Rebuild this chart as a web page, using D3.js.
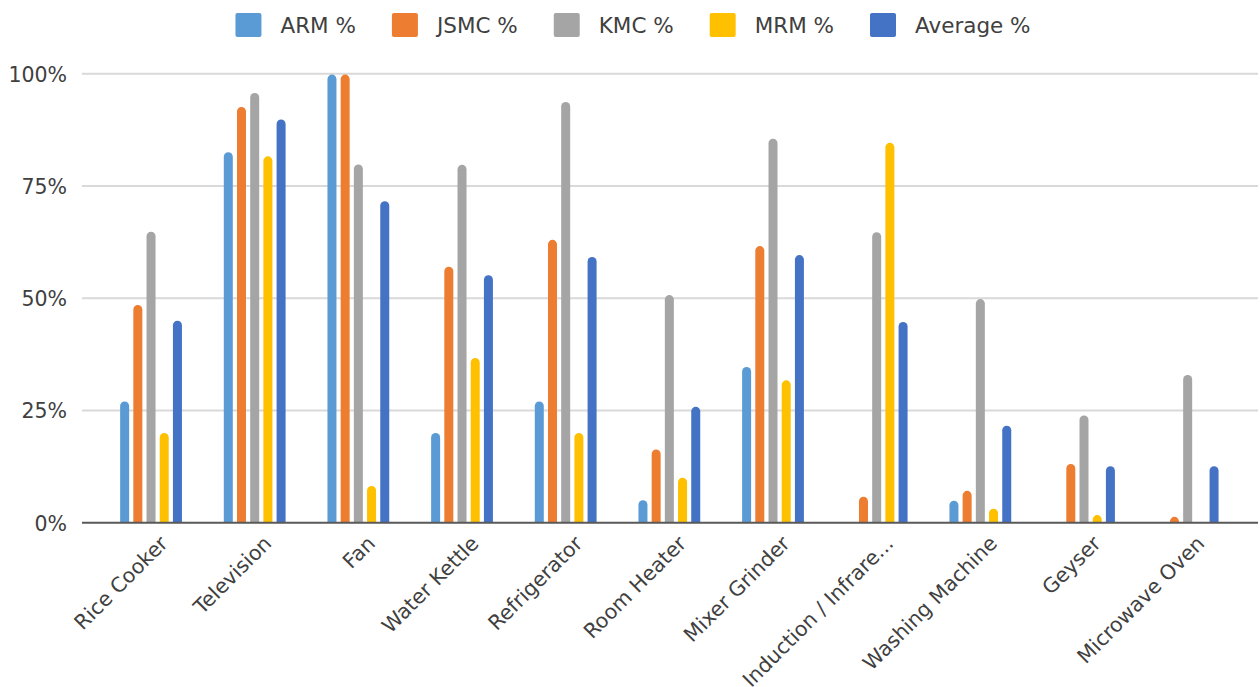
<!DOCTYPE html>
<html>
<head>
<meta charset="utf-8">
<script src="https://cdn.jsdelivr.net/npm/d3@7"></script>
<style>
  html, body { margin: 0; padding: 0; background: #ffffff; }
  svg { display: block; }
  text { font-family: "DejaVu Sans", "Open Sans", sans-serif; fill: #404040; }
</style>
</head>
<body>
<svg id="chart" width="1260" height="687"></svg>
<script>
const categories = ["Rice Cooker","Television","Fan","Water Kettle","Refrigerator","Room Heater","Mixer Grinder","Induction / Infrare...","Washing Machine","Geyser","Microwave Oven"];
const seriesNames = ["ARM %","JSMC %","KMC %","MRM %","Average %"];
const armValues   = [27.0, 82.5, 99.8, 20.0, 27.0,  5.0, 34.7,  0.0,  4.9,  0.0,  0.0];
const jsmcValues  = [48.5, 92.6, 99.8, 57.0, 63.0, 16.3, 61.6,  5.8,  7.1, 13.1,  1.3];
const kmcValues   = [64.8, 95.7, 79.8, 79.7, 93.7, 50.7, 85.5, 64.7, 49.8, 23.9, 32.9];
const mrmValues   = [20.0, 81.6,  8.2, 36.7, 20.0, 10.0, 31.7, 84.6,  3.1,  1.7,  0.0];
const avgValues   = [45.0, 89.8, 71.6, 55.1, 59.2, 25.8, 59.6, 44.7, 21.6, 12.6, 12.6];
const seriesColors = ["#5B9BD5","#ED7D31","#A5A5A5","#FFC000","#4472C4"];
const yTicks = [0, 25, 50, 75, 100];

const allSeries = [armValues, jsmcValues, kmcValues, mrmValues, avgValues];

const svg = d3.select("#chart");
const gridLeft = 82, gridRight = 1258;

const x0 = d3.scaleBand().domain(categories).range([99.2, 1239.5]).padding(0);
const x1 = d3.scaleBand().domain(seriesNames).range([-33, 33]).paddingInner(0.318).paddingOuter(0.159);
const y = d3.scaleLinear().domain([0, 100]).range([522.7, 73.7]);

// gridlines
svg.append("g").selectAll("line").data(yTicks.filter(t => t > 0)).join("line")
  .attr("x1", gridLeft).attr("x2", gridRight)
  .attr("y1", d => y(d)).attr("y2", d => y(d))
  .attr("stroke", "#d9d9d9").attr("stroke-width", 2);

// y-axis labels
const yAxis = d3.axisLeft(y).tickValues(yTicks).tickFormat(d => d + "%").tickSize(0).tickPadding(0);
const gy = svg.append("g").attr("transform", `translate(67,0)`).call(yAxis);
gy.select(".domain").remove();
gy.selectAll("text").attr("font-size", 20.5).attr("fill", "#404040")
  .attr("font-family", "DejaVu Sans").attr("dy", "0.36em");

// bars
function barPath(cx, w, v) {
  const yb = y(0), yt = y(v);
  const h = yb - yt;
  if (h <= 0) return "";
  const r = Math.min(w / 2, h);
  const xl = cx - w / 2, xr = cx + w / 2;
  return `M${xl},${yb} V${yt + r} A${w/2},${r} 0 0 1 ${xr},${yt + r} V${yb} Z`;
}
const groups = svg.append("g").selectAll("g").data(categories).join("g")
  .attr("transform", d => `translate(${x0(d) + x0.bandwidth() / 2},0)`);
groups.selectAll("path").data((c, i) => seriesNames.map((s, k) => ({ s, k, v: allSeries[k][i] })))
  .join("path")
  .attr("d", d => barPath(x1(d.s) + x1.bandwidth() / 2, x1.bandwidth(), d.v))
  .attr("fill", d => seriesColors[d.k]);

// x axis
const xAxis = d3.axisBottom(x0).tickSize(0).tickPadding(0);
const gx = svg.append("g").attr("transform", `translate(0,${y(0)})`).call(xAxis);
gx.select(".domain").remove();
gx.selectAll("text")
  .attr("font-size", 20.5).attr("fill", "#404040").attr("font-family", "DejaVu Sans")
  .attr("text-anchor", "end")
  .attr("dy", null).attr("y", 0)
  .attr("transform", "translate(18,22) rotate(-45)");
svg.append("line").attr("x1", gridLeft).attr("x2", gridRight)
  .attr("y1", y(0)).attr("y2", y(0))
  .attr("stroke", "#595959").attr("stroke-width", 2);

// legend
const legend = svg.append("g");
const items = legend.selectAll("g").data(seriesNames).join("g");
items.append("rect").attr("width", 26).attr("height", 24).attr("y", 13).attr("rx", 2)
  .attr("fill", (d, i) => seriesColors[i]);
items.append("text").attr("x", 45).attr("y", 33).attr("font-size", 21.5).attr("fill", "#404040")
  .text(d => d);
let cx = 0;
const offs = [];
items.each(function () {
  offs.push(cx);
  const tw = d3.select(this).select("text").node().getComputedTextLength();
  cx += 45 + tw + 36;
});
const total = cx - 36;
const start = 633 - total / 2;
items.attr("transform", (d, i) => `translate(${start + offs[i]},0)`);
</script>
</body>
</html>
